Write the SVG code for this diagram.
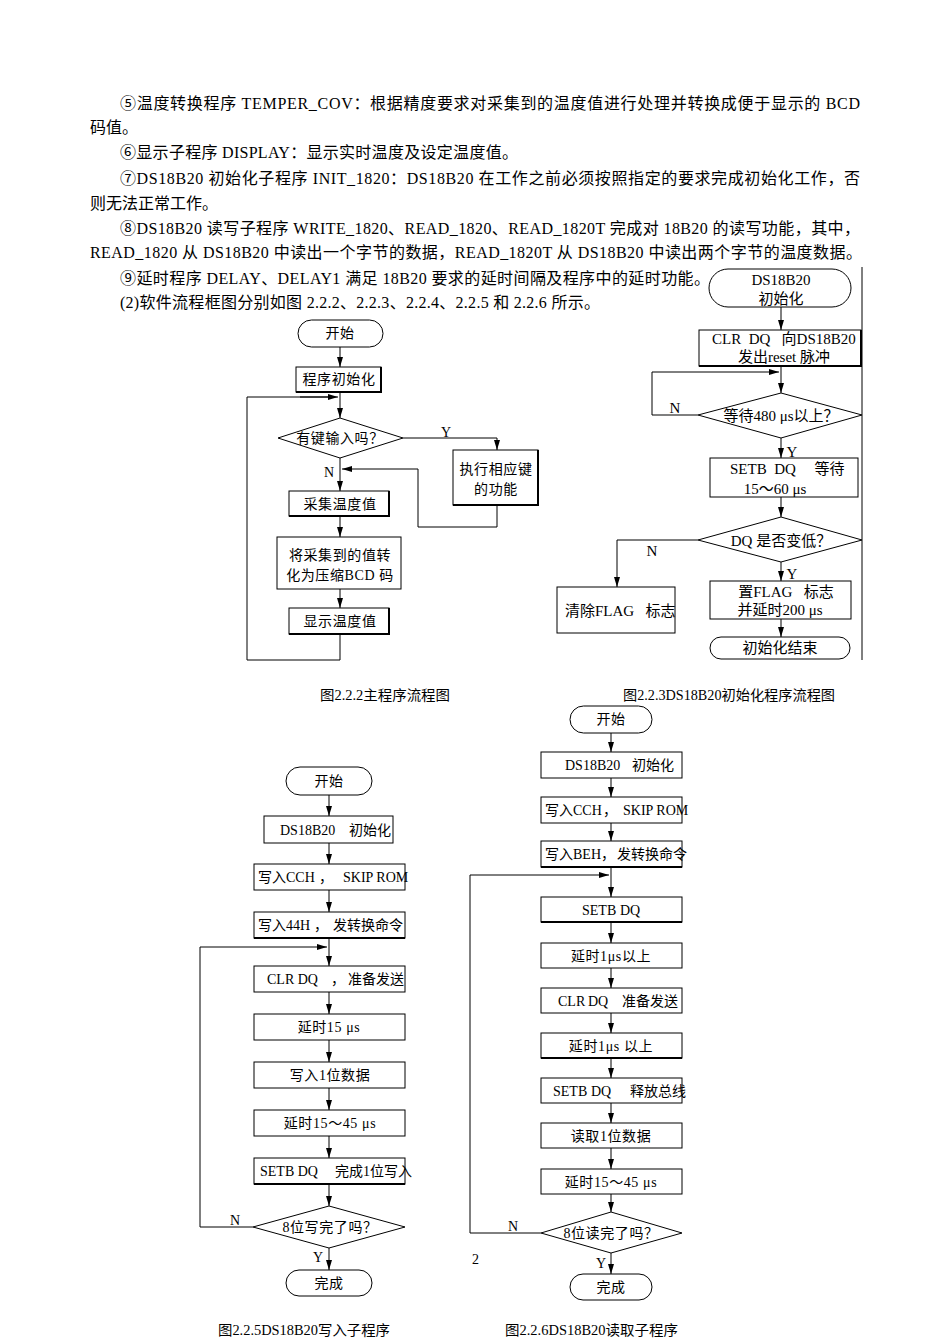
<svg xmlns="http://www.w3.org/2000/svg" width="950" height="1344" viewBox="0 0 950 1344">
<defs>
<marker id="ah" markerUnits="userSpaceOnUse" markerWidth="10" markerHeight="6" refX="10" refY="3" orient="auto"><path d="M0,0 L10,3 L0,6 z" fill="#000"/></marker>
<style>
.p{font-family:'Liberation Serif','Noto Sans CJK SC',serif;font-size:16px;fill:#000}
.t{font-family:'Liberation Serif','Noto Sans CJK SC',serif;font-size:14px;letter-spacing:0.6px;fill:#000;text-anchor:middle}
.ts{font-family:'Liberation Serif','Noto Sans CJK SC',serif;font-size:14px;fill:#000}
.tb{font-family:'Liberation Serif','Noto Sans CJK SC',serif;font-size:15px;fill:#000;text-anchor:middle}
.cap{font-family:'Liberation Serif','Noto Sans CJK SC',serif;font-size:14px;fill:#000}
.b{fill:#fff;stroke:#000;stroke-width:1}
.sh{fill:none;stroke:#000;stroke-width:2}
.c{fill:none;stroke:#000;stroke-width:1}
.ca{fill:none;stroke:#000;stroke-width:1;marker-end:url(#ah)}
</style>
</defs>
<rect width="950" height="1344" fill="#fff"/>
<g id="paragraph">
<text class="p" x="120" y="109" textLength="740" lengthAdjust="spacing">⑤温度转换程序 TEMPER_COV：根据精度要求对采集到的温度值进行处理并转换成便于显示的 BCD</text>
<text class="p" x="90" y="133">码值。</text>
<text class="p" x="120" y="158" textLength="398" lengthAdjust="spacing">⑥显示子程序 DISPLAY：显示实时温度及设定温度值。</text>
<text class="p" x="120" y="184" textLength="740" lengthAdjust="spacing">⑦DS18B20 初始化子程序 INIT_1820：DS18B20 在工作之前必须按照指定的要求完成初始化工作，否</text>
<text class="p" x="90" y="209">则无法正常工作。</text>
<text class="p" x="120" y="234" textLength="740" lengthAdjust="spacing">⑧DS18B20 读写子程序 WRITE_1820、READ_1820、READ_1820T 完成对 18B20 的读写功能，其中，</text>
<text class="p" x="90" y="258" textLength="772" lengthAdjust="spacing">READ_1820 从 DS18B20 中读出一个字节的数据，READ_1820T 从 DS18B20 中读出两个字节的温度数据。</text>
<text class="p" x="120" y="284" textLength="590" lengthAdjust="spacing">⑨延时程序 DELAY、DELAY1 满足 18B20 要求的延时间隔及程序中的延时功能。</text>
<text class="p" x="120" y="308" textLength="480" lengthAdjust="spacing">(2)软件流程框图分别如图 2.2.2、2.2.3、2.2.4、2.2.5 和 2.2.6 所示。</text>
</g>

<!-- Fig 2.2.2 main -->
<g id="connectors-main">
<line class="ca" x1="340" y1="347" x2="340" y2="367"/>
<line class="ca" x1="340" y1="392" x2="340" y2="418"/>
<polyline class="c" points="340,634 340,660 247,660 247,397 330,397"/>
<line class="ca" x1="300" y1="397" x2="338" y2="397"/>
<polyline class="ca" points="403,438 497,438 497,450"/>
<polyline class="c" points="497,505 497,527 418,527 418,469 380,469"/>
<line class="ca" x1="380" y1="469" x2="342" y2="469"/>
<line class="ca" x1="340" y1="458" x2="340" y2="491"/>
<line class="ca" x1="340" y1="516" x2="340" y2="537"/>
<line class="ca" x1="340" y1="589" x2="340" y2="608"/>
<text class="ts" x="441" y="437">Y</text>
<text class="ts" x="324" y="477">N</text>
</g>
<g id="m-start"><rect class="b" x="298" y="320" width="85" height="27" rx="13.5"/><text class="t" x="340" y="338">开始</text></g>
<g id="m-init"><rect class="b" x="296" y="367" width="85" height="25"/><polyline class="sh" points="296,392 381,392 381,367"/><text class="t" x="339" y="384">程序初始化</text></g>
<g id="m-key"><polygon class="b" points="278,438 340,418 403,438 340,458"/><text class="t" x="340" y="443">有键输入吗？</text></g>
<g id="m-exec"><rect class="b" x="453" y="450" width="85" height="55"/><polyline class="sh" points="453,505 538,505 538,450"/><text class="t" x="496" y="474">执行相应键</text><text class="t" x="496" y="494">的功能</text></g>
<g id="m-collect"><rect class="b" x="289" y="491" width="100" height="25"/><polyline class="sh" points="289,516 389,516 389,491"/><text class="t" x="340" y="509">采集温度值</text></g>
<g id="m-bcd"><rect class="b" x="277" y="537" width="124" height="52"/><text class="t" x="340" y="560">将采集到的值转</text><text class="t" x="340" y="580" xml:space="preserve">化为压缩BCD 码</text></g>
<g id="m-disp"><rect class="b" x="289" y="608" width="100" height="26"/><polyline class="sh" points="289,634 389,634 389,608"/><text class="t" x="340" y="626">显示温度值</text></g>
<text class="cap" x="320" y="700" textLength="130" lengthAdjust="spacingAndGlyphs">图2.2.2主程序流程图</text>

<!-- Fig 2.2.3 init -->
<g id="connectors-init">
<line class="c" x1="862" y1="267" x2="862" y2="660"/>
<line class="ca" x1="781" y1="307" x2="781" y2="330"/>
<line class="ca" x1="781" y1="366" x2="781" y2="393"/>
<polyline class="c" points="698,415 652,415 652,372 740,372"/>
<line class="ca" x1="740" y1="372" x2="779" y2="372"/>
<line class="ca" x1="781" y1="438" x2="781" y2="458"/>
<line class="ca" x1="781" y1="497" x2="781" y2="517"/>
<polyline class="ca" points="698,540 617,540 617,587"/>
<line class="ca" x1="781" y1="562" x2="781" y2="581"/>
<line class="ca" x1="781" y1="619" x2="781" y2="637"/>
<text class="tb" x="675" y="413">N</text>
<text class="tb" x="792" y="457">Y</text>
<text class="tb" x="652" y="556">N</text>
<text class="tb" x="792" y="579">Y</text>
</g>
<g id="i-start"><rect class="b" x="709" y="269" width="142" height="38" rx="19"/><text class="tb" x="781" y="285">DS18B20</text><text class="tb" x="781" y="304">初始化</text></g>
<g id="i-clr"><rect class="b" x="699" y="330" width="162" height="36"/><polyline class="sh" points="699,366 861,366 861,330"/><text class="tb" x="712" y="344" style="text-anchor:start" xml:space="preserve">CLR  DQ   向DS18B20</text><text class="tb" x="784" y="362">发出reset 脉冲</text></g>
<g id="i-wait"><polygon class="b" points="698,415 781,393 862,415 781,438"/><text class="tb" x="781" y="421">等待480 μs以上？</text></g>
<g id="i-setb"><rect class="b" x="710" y="458" width="148" height="39"/><text class="tb" x="730" y="474" style="text-anchor:start" xml:space="preserve">SETB  DQ     等待</text><text class="tb" x="775" y="494">15～60 μs</text></g>
<g id="i-dq"><polygon class="b" points="698,540 781,517 862,540 781,562"/><text class="tb" x="781" y="546">DQ 是否变低？</text></g>
<g id="i-clear"><rect class="b" x="557" y="587" width="118" height="46"/><text class="tb" x="565" y="616" style="text-anchor:start" xml:space="preserve">清除FLAG   标志</text></g>
<g id="i-set"><rect class="b" x="710" y="581" width="141" height="38"/><text class="tb" x="786" y="597" xml:space="preserve">置FLAG   标志</text><text class="tb" x="780" y="615">并延时200 μs</text></g>
<g id="i-end"><rect class="b" x="710" y="637" width="140" height="22" rx="11"/><text class="tb" x="780" y="653">初始化结束</text></g>
<text class="cap" x="623" y="700" textLength="212" lengthAdjust="spacingAndGlyphs">图2.2.3DS18B20初始化程序流程图</text>

<!-- Fig 2.2.5 write -->
<g id="connectors-write">
<line class="ca" x1="329" y1="795" x2="329" y2="816"/>
<line class="ca" x1="329" y1="843" x2="329" y2="864"/>
<line class="ca" x1="329" y1="890" x2="329" y2="912"/>
<line class="ca" x1="329" y1="938" x2="329" y2="966"/>
<polyline class="c" points="253,1227 200,1227 200,947 290,947"/>
<line class="ca" x1="290" y1="947" x2="327" y2="947"/>
<line class="ca" x1="329" y1="992" x2="329" y2="1014"/>
<line class="ca" x1="329" y1="1040" x2="329" y2="1062"/>
<line class="ca" x1="329" y1="1088" x2="329" y2="1110"/>
<line class="ca" x1="329" y1="1136" x2="329" y2="1158"/>
<line class="ca" x1="329" y1="1184" x2="329" y2="1206"/>
<line class="ca" x1="329" y1="1248" x2="329" y2="1270"/>
<text class="ts" x="230" y="1225">N</text>
<text class="ts" x="313" y="1262">Y</text>
</g>
<g id="w-start"><rect class="b" x="286" y="767" width="86" height="28" rx="14"/><text class="t" x="329" y="786">开始</text></g>
<g id="w-init"><rect class="b" x="264" y="816" width="129" height="27"/><text class="ts" y="835"><tspan x="280">DS18B20</tspan><tspan x="349">初始化</tspan></text></g>
<g id="w-cch"><rect class="b" x="254" y="864" width="151" height="26"/><text class="ts" y="882"><tspan x="258">写入CCH</tspan><tspan x="319">，</tspan><tspan x="343">SKIP ROM</tspan></text></g>
<g id="w-44h"><rect class="b" x="254" y="912" width="151" height="26"/><polyline class="sh" points="254,938 405,938"/><text class="ts" y="930"><tspan x="258">写入44H</tspan><tspan x="314">，</tspan><tspan x="333">发转换命令</tspan></text></g>
<g id="w-clr"><rect class="b" x="254" y="966" width="151" height="26"/><text class="ts" y="984"><tspan x="267">CLR DQ</tspan><tspan x="331">，</tspan><tspan x="348">准备发送</tspan></text></g>
<g id="w-d15"><rect class="b" x="254" y="1014" width="151" height="26"/><text class="t" x="329" y="1032">延时15 μs</text></g>
<g id="w-bit"><rect class="b" x="254" y="1062" width="151" height="26"/><text class="t" x="330" y="1080">写入1位数据</text></g>
<g id="w-d45"><rect class="b" x="254" y="1110" width="151" height="26"/><text class="t" x="330" y="1128">延时15～45 μs</text></g>
<g id="w-setb"><rect class="b" x="254" y="1158" width="151" height="26"/><polyline class="sh" points="254,1184 405,1184"/><text class="ts" y="1176"><tspan x="260">SETB DQ</tspan><tspan x="335">完成1位写入</tspan></text></g>
<g id="w-q"><polygon class="b" points="253,1227 329,1206 405,1227 329,1248"/><text class="t" x="330" y="1232">8位写完了吗？</text></g>
<g id="w-end"><rect class="b" x="286" y="1270" width="86" height="26" rx="13"/><text class="t" x="329" y="1288">完成</text></g>
<text class="cap" x="218" y="1335" textLength="172" lengthAdjust="spacingAndGlyphs">图2.2.5DS18B20写入子程序</text>

<!-- Fig 2.2.6 read -->
<g id="connectors-read">
<line class="ca" x1="611" y1="733" x2="611" y2="752"/>
<line class="ca" x1="611" y1="778" x2="611" y2="797"/>
<line class="ca" x1="611" y1="823" x2="611" y2="841"/>
<line class="ca" x1="611" y1="867" x2="611" y2="897"/>
<polyline class="c" points="541,1233 470,1233 470,875 570,875"/>
<line class="ca" x1="570" y1="875" x2="609" y2="875"/>
<line class="ca" x1="611" y1="922" x2="611" y2="943"/>
<line class="ca" x1="611" y1="968" x2="611" y2="988"/>
<line class="ca" x1="611" y1="1013" x2="611" y2="1033"/>
<line class="ca" x1="611" y1="1058" x2="611" y2="1078"/>
<line class="ca" x1="611" y1="1103" x2="611" y2="1123"/>
<line class="ca" x1="611" y1="1148" x2="611" y2="1169"/>
<line class="ca" x1="611" y1="1194" x2="611" y2="1212"/>
<line class="ca" x1="611" y1="1253" x2="611" y2="1274"/>
<text class="ts" x="508" y="1231">N</text>
<text class="ts" x="596" y="1268">Y</text>
</g>
<g id="r-start"><rect class="b" x="570" y="706" width="82" height="27" rx="13.5"/><text class="t" x="611" y="724">开始</text></g>
<g id="r-init"><rect class="b" x="541" y="752" width="141" height="26"/><text class="ts" y="770"><tspan x="565">DS18B20</tspan><tspan x="632">初始化</tspan></text></g>
<g id="r-cch"><rect class="b" x="541" y="797" width="141" height="26"/><text class="ts" y="815"><tspan x="545">写入CCH</tspan><tspan x="603">，</tspan><tspan x="623">SKIP ROM</tspan></text></g>
<g id="r-beh"><rect class="b" x="541" y="841" width="141" height="26"/><polyline class="sh" points="541,867 682,867"/><text class="ts" y="859"><tspan x="545">写入BEH</tspan><tspan x="601">，</tspan><tspan x="617">发转换命令</tspan></text></g>
<g id="r-setb1"><rect class="b" x="541" y="897" width="141" height="25"/><polyline class="sh" points="541,922 682,922"/><text class="ts" y="915"><tspan x="582">SETB</tspan><tspan x="620">DQ</tspan></text></g>
<g id="r-d1"><rect class="b" x="541" y="943" width="141" height="25"/><text class="t" x="611" y="961">延时1μs以上</text></g>
<g id="r-clr"><rect class="b" x="541" y="988" width="141" height="25"/><text class="ts" y="1006"><tspan x="558">CLR</tspan><tspan x="588">DQ</tspan><tspan x="622">准备发送</tspan></text></g>
<g id="r-d2"><rect class="b" x="541" y="1033" width="141" height="25"/><polyline class="sh" points="541,1058 682,1058"/><text class="t" x="611" y="1051">延时1μs 以上</text></g>
<g id="r-setb2"><rect class="b" x="541" y="1078" width="141" height="25"/><text class="ts" y="1096"><tspan x="553">SETB</tspan><tspan x="591">DQ</tspan><tspan x="630">释放总线</tspan></text></g>
<g id="r-bit"><rect class="b" x="541" y="1123" width="141" height="25"/><text class="t" x="611" y="1141">读取1位数据</text></g>
<g id="r-d45"><rect class="b" x="541" y="1169" width="141" height="25"/><text class="t" x="611" y="1187">延时15～45 μs</text></g>
<g id="r-q"><polygon class="b" points="541,1233 611,1212 682,1233 611,1253"/><text class="t" x="611" y="1238">8位读完了吗？</text></g>
<g id="r-end"><rect class="b" x="570" y="1274" width="82" height="26" rx="13"/><text class="t" x="611" y="1292">完成</text></g>
<text class="ts" x="472" y="1264">2</text>
<text class="cap" x="505" y="1335" textLength="173" lengthAdjust="spacingAndGlyphs">图2.2.6DS18B20读取子程序</text>
</svg>
